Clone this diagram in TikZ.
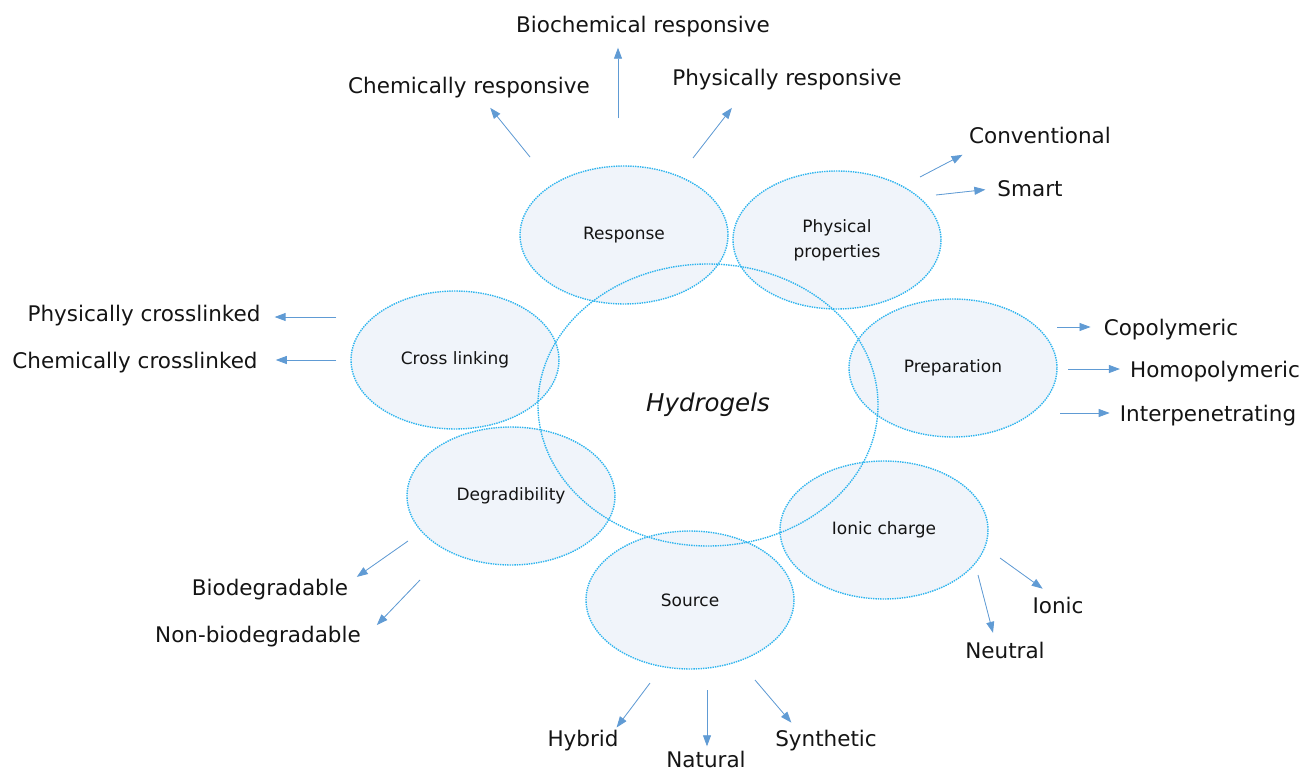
\documentclass[tikz,border=0pt]{standalone}
\usepackage{fontspec}
\setmainfont{DejaVu Sans}
\usepackage{tikz}
\usetikzlibrary{shapes.geometric, arrows.meta, positioning, calc}
\definecolor{dotcyan}{RGB}{45,180,238}
\definecolor{blobfill}{RGB}{240,244,250}
\definecolor{arrowblue}{RGB}{96,155,212}
\definecolor{labeltext}{RGB}{20,20,20}
\tikzset{
  blob/.style={
    ellipse, draw=dotcyan, densely dotted, line width=1.4pt,
    fill=blobfill, minimum width=208pt, minimum height=138pt,
    inner sep=0pt, align=center, text=labeltext,
    font=\fontsize{17}{25}\selectfont
  },
  hub/.style={blob, fill=none, minimum width=340pt, minimum height=282pt,
    font=\fontsize{24.5}{28}\selectfont\itshape},
  lbl/.style={anchor=base, inner sep=2pt, text height=0.75em,
    text depth=0.25em, text=labeltext, font=\fontsize{21.5}{26}\selectfont},
  arr/.style={-{Triangle[length=11pt,width=8pt]}, line width=0.8pt,
    draw=arrowblue, fill=arrowblue}
}

\begin{document}
\begin{tikzpicture}[x=1pt, y=-1pt]
  \useasboundingbox (0,0) rectangle (1304,771);

  % categories round the hub
  \node[blob] (resp)  at (624,235) {Response};
  \node[blob] (phys)  at (837,240) {Physical\\properties};
  \node[blob] (prep)  at (953,368) {Preparation};
  \node[blob] (ionc)  at (884,530) {Ionic charge};
  \node[blob] (src)   at (690,600) {Source};
  \node[blob] (degr)  at (511,496) {Degradibility};
  \node[blob] (xlink) at (455,360) {Cross linking};
  \node[hub]  (hydro) at (708,405) {Hydrogels};

  % sub-types
  \node[lbl] (bio)     at (643,32)  {Biochemical responsive};
  \node[lbl] (chemr)   at (469,93)  {Chemically responsive};
  \node[lbl] (physr)   at (787,85)  {Physically responsive};
  \node[lbl] (conv)    at (1040,143) {Conventional};
  \node[lbl] (smart)   at (1030,196) {Smart};
  \node[lbl] (copoly)  at (1171,335) {Copolymeric};
  \node[lbl] (homo)    at (1215,377) {Homopolymeric};
  \node[lbl] (inter)   at (1208,421) {Interpenetrating};
  \node[lbl] (ionic)   at (1058,613) {Ionic};
  \node[lbl] (neutral) at (1005,658) {Neutral};
  \node[lbl] (synth)   at (826,746) {Synthetic};
  \node[lbl] (natural) at (706,767) {Natural};
  \node[lbl] (hybrid)  at (583,746) {Hybrid};
  \node[lbl] (biodeg)  at (270,595) {Biodegradable};
  \node[lbl] (nonbio)  at (258,642) {Non-biodegradable};
  \node[lbl] (physx)   at (144,321) {Physically crosslinked};
  \node[lbl] (chemx)   at (135,368) {Chemically crosslinked};

  % arrow tails
  \coordinate (t1)  at (618,118);
  \coordinate (t2)  at (530,157);
  \coordinate (t3)  at (693,158);
  \coordinate (t4)  at (920,177);
  \coordinate (t5)  at (936,195);
  \coordinate (t6)  at (1057,327);
  \coordinate (t7)  at (1068,369);
  \coordinate (t8)  at (1060,413);
  \coordinate (t9)  at (1000,558);
  \coordinate (t10) at (978,575);
  \coordinate (t11) at (755,680);
  \coordinate (t12) at (707,690);
  \coordinate (t13) at (650,683);
  \coordinate (t14) at (408,541);
  \coordinate (t15) at (420,580);
  \coordinate (t16) at (336,317);
  \coordinate (t17) at (336,360);

  \draw[arr, shorten >=11pt] (t1) -- (t1 |- bio.south);
  \draw[arr, shorten >=13pt] (t2) -- ([xshift=13pt]chemr.south);
  \draw[arr, shorten >=23pt] (t3) -- ([xshift=-41pt]physr.south);
  \draw[arr, shorten >=5pt]  (t4) -- ([yshift=-12pt]conv.west);
  \draw[arr, shorten >=10pt] (t5) -- ([yshift=5pt]smart.west);
  \draw[arr, shorten >=11pt] (t6) -- (t6 -| copoly.west);
  \draw[arr, shorten >=8pt]  (t7) -- (t7 -| homo.west);
  \draw[arr, shorten >=8pt]  (t8) -- (t8 -| inter.west);
  \draw[arr, shorten >=25pt] (t9) -- ([xshift=5pt]ionic.north);
  \draw[arr, shorten >=16pt] (t10) -- ([xshift=-8pt]neutral.north);
  \draw[arr, shorten >=18pt] (t11) -- ([xshift=-23pt]synth.north);
  \draw[arr, shorten >=11pt] (t12) -- (t12 |- natural.north);
  \draw[arr, shorten >=11pt] (t13) -- ([xshift=27pt]hybrid.north);
  \draw[arr, shorten >=8pt]  (t14) -- ([yshift=11pt]biodeg.east);
  \draw[arr, shorten >=20pt] (t15) -- (nonbio.east);
  \draw[arr, shorten >=12pt] (t16) -- (t16 -| physx.east);
  \draw[arr, shorten >=16pt] (t17) -- (t17 -| chemx.east);
\end{tikzpicture}
\end{document}
